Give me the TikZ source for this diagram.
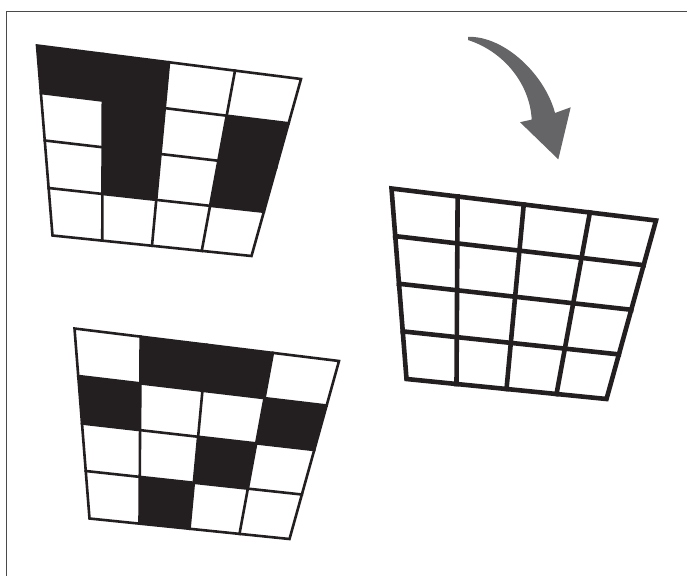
\documentclass[tikz,border=0pt]{standalone}
\usetikzlibrary{calc}
\definecolor{ink}{HTML}{231F20}
\definecolor{arrowgray}{HTML}{656466}
\definecolor{framegray}{HTML}{4A4A4A}
\tikzset{
  gridline/.style={draw=ink, line join=miter, line cap=rect},
  cellfill/.style={fill=ink},
  framestyle/.style={draw=framegray, line width=1pt},
  arrowfill/.style={fill=arrowgray}
}
% #1 name, #2 TL, #3 TR, #4 BR, #5 BL, #6 line width, #7 black cells (col/row from 0)
\newcommand{\quadgrid}[7]{%
  \coordinate (#1TL) at #2;
  \coordinate (#1TR) at #3;
  \coordinate (#1BR) at #4;
  \coordinate (#1BL) at #5;
  \foreach \i in {0,...,4}{
    \foreach \j in {0,...,4}{
      \coordinate (#1-\i-\j) at ($($(#1TL)!\i/4!(#1TR)$)!\j/4!($(#1BL)!\i/4!(#1BR)$)$);
    }
  }
  \foreach \c/\r in {#7}{
    \pgfmathtruncatemacro\cc{\c+1}
    \pgfmathtruncatemacro\rr{\r+1}
    \fill[cellfill] (#1-\c-\r) -- (#1-\cc-\r) -- (#1-\cc-\rr) -- (#1-\c-\rr) -- cycle;
  }
  \foreach \k in {1,2,3}{
    \draw[gridline, line width=#6] (#1-\k-0) -- (#1-\k-4);
    \draw[gridline, line width=#6] (#1-0-\k) -- (#1-4-\k);
  }
  \draw[gridline, line width=#6, line cap=butt] (#1TL) -- (#1TR) -- (#1BR) -- (#1BL) -- cycle;
}
\begin{document}
\begin{tikzpicture}[x=1pt,y=-1pt]
\useasboundingbox (0,0) rectangle (687,576);
\fill[white] (0,0) rectangle (687,576);
% frame (top and left)
\coordinate (fTop) at (687,11);
\coordinate (fCorner) at (6.5,11);
\coordinate (fBot) at (6.5,576);
\draw[framestyle] (fTop) -- (fCorner) -- (fBot);
% grid 1 (top left)
\quadgrid{a}{(37,45.5)}{(301,79)}{(251.5,256)}{(52.5,235.5)}{2.6pt}{0/0,1/0,1/1,3/1,1/2,3/2}
% grid 2 (bottom left)
\quadgrid{b}{(74.5,328.5)}{(339,361)}{(289.5,539)}{(89.5,518.5)}{2.6pt}{1/0,2/0,0/1,3/1,2/2,1/3}
% grid 3 (right, thick lines)
\quadgrid{c}{(391.5,188.5)}{(656,220.5)}{(606.5,399)}{(406.5,379)}{4.6pt}{}
% curved arrow
\coordinate (arTail) at (468,36.8);
\coordinate (arOut) at (555,113);
\coordinate (arBarbR) at (570.7,107.3);
\coordinate (arTip) at (558.3,159.3);
\coordinate (arBarbL) at (520,122.2);
\coordinate (arIn) at (531.7,119.6);
\coordinate (arTailIn) at (468,40);
\fill[arrowfill] (arTail) .. controls (505,36) and (545,75) .. (arOut)
  -- (arBarbR) -- (arTip) -- (arBarbL) -- (arIn)
  .. controls (530,85) and (505,52) .. (arTailIn) -- cycle;
\end{tikzpicture}
\end{document}
